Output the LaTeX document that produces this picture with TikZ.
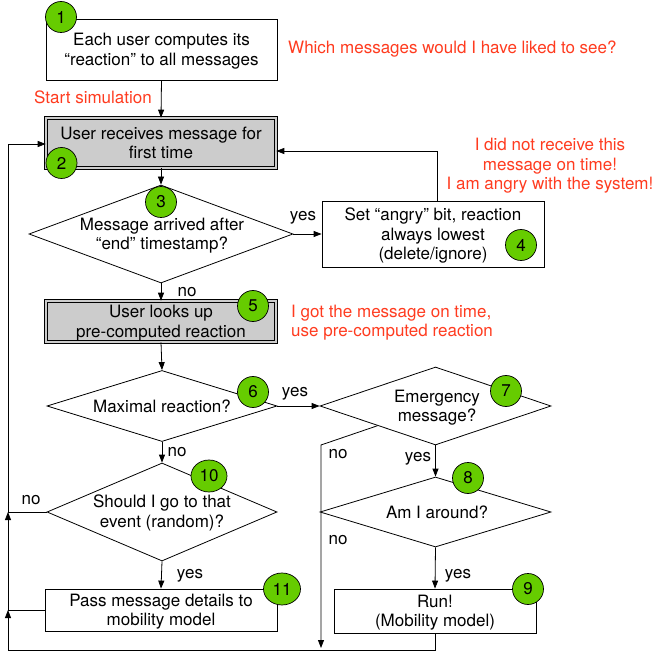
\documentclass[tikz,border=0pt]{standalone}
\usepackage{fontspec}
\setmainfont{TeX Gyre Heros}
\usetikzlibrary{shapes.geometric,arrows.meta,calc}
\definecolor{numgreen}{RGB}{102,204,0}
\definecolor{notered}{RGB}{255,59,31}
\definecolor{boxgray}{RGB}{204,204,204}
\tikzset{
  txt/.style={font=\fontsize{17}{19.5}\selectfont, align=center, inner sep=0pt, text depth=0pt},
  box/.style={txt, draw, line width=0.8pt, fill=white},
  graybox/.style={txt, draw, line width=0.6pt, double=boxgray, double distance=2pt, fill=boxgray},
  dia/.style={diamond, draw, line width=0.8pt, fill=white, inner sep=0pt},
  num/.style={ellipse, draw, line width=0.7pt, fill=numgreen, inner sep=0pt, font=\fontsize{17}{19.5}\selectfont},
  lab/.style={font=\fontsize{17}{19.5}\selectfont, inner sep=0pt},
  note/.style={txt, text=notered},
  arr/.style={line width=0.8pt, -{Triangle[length=8pt,width=6pt]}},
}
\begin{document}
\begin{tikzpicture}[x=1pt,y=-1pt]
\useasboundingbox (0,0) rectangle (656,652);

% boxes
\node[box, minimum width=231pt, minimum height=61pt] (b1) at (161.5,49.5) {Each user computes its\\“reaction” to all messages};
\node[graybox, minimum width=230pt, minimum height=50pt] (b2) at (161,143) {User receives message for\\first time};
\node[box, minimum width=222pt, minimum height=66pt] (b4) at (433,234) {Set “angry” bit, reaction\\always lowest\\(delete/ignore)};
\node[graybox, minimum width=230pt, minimum height=41pt] (b5) at (161,321.5) {User looks up\\pre-computed reaction};
\node[box, minimum width=232pt, minimum height=42pt] (b11) at (161,610) {Pass message details to\\mobility model};
\node[box, minimum width=202pt, minimum height=44pt] (b9) at (435,611) {Run!\\(Mobility model)};

% diamonds
\node[dia, minimum width=264pt, minimum height=98pt] (d3) at (161,234) {};
\node[txt] (t3) at (162,234) {Message arrived after\\“end” timestamp?};
\node[dia, minimum width=230pt, minimum height=71pt] (d6) at (162,406) {};
\node[txt] (t6) at (162,406) {Maximal reaction?};
\node[dia, minimum width=231pt, minimum height=78pt] (d7) at (435.5,406) {};
\node[txt] (t7) at (437,406) {Emergency\\message?};
\node[dia, minimum width=231pt, minimum height=70pt] (d8) at (435.5,512) {};
\node[txt] (t8) at (437,512) {Am I around?};
\node[dia, minimum width=230pt, minimum height=98pt] (d10) at (162,512) {};
\node[txt] (t10) at (162,511) {Should I go to that\\event (random)?};

% helper coordinates
\coordinate (L1) at (8,650);
\coordinate (L2) at (8,610);
\coordinate (L3) at (8,512);
\coordinate (L4) at (8,144);
\coordinate (fb) at (437,151);
\coordinate (nb) at (321,445);
\coordinate (nbe) at (321,648);

% connectors
\draw[arr] (b1.south) -- (b2.north);
\draw[arr] (b2.south) -- (d3.north);
\draw[arr] (d3.east) -- (b4.west);
\draw[arr] (fb|-b4.north) -- (fb) -- (fb-|b2.east);
\draw[arr] (d3.south) -- (b5.north);
\draw[arr] (b5.south) -- (d6.north);
\draw[arr] (d6.east) -- (d7.west);
\draw[arr] (d6.south) -- (d10.north);
\draw[arr] (d7.south) -- (d8.north);
\draw[arr] ($(d7.west)!0.5!(d7.south)$) -- (nb) -- (nbe);
\draw[arr] (d8.south) -- (b9.north);
\draw[arr] (d10.south) -- (b11.north);
\draw[arr] (b9.south) -- (b9.south|-L1) -- (L1) -- (L2);
\draw[arr] (b11.west) -- (L2) -- (L3);
\draw[arr] (d10.west) -- (L3) -- (L4) -- (L4-|b2.west);

% labels
\node[lab] (y3) at (303,218) {yes};
\node[lab] (n3l) at (187,292) {no};
\node[lab] (y6) at (295,394) {yes};
\node[lab] (n6l) at (177,452) {no};
\node[lab] (n10l) at (31,500) {no};
\node[lab] (y10) at (190,576) {yes};
\node[lab] (n7l) at (338,454) {no};
\node[lab] (y7) at (418,459) {yes};
\node[lab] (n8l) at (338,540) {no};
\node[lab] (y8) at (458,576) {yes};

% number circles
\node[num, minimum width=31pt, minimum height=31pt] (c1) at (61,17) {1};
\node[num, minimum width=31pt, minimum height=31pt] (c2) at (61.5,163) {2};
\node[num, minimum width=31pt, minimum height=31pt] (c3) at (161,202) {3};
\node[num, minimum width=31pt, minimum height=31pt] (c4) at (521,245) {4};
\node[num, minimum width=31pt, minimum height=31pt] (c5) at (253,306) {5};
\node[num, minimum width=31pt, minimum height=31pt] (c6) at (253,392) {6};
\node[num, minimum width=31pt, minimum height=31pt] (c7) at (506,391) {7};
\node[num, minimum width=31pt, minimum height=31pt] (c8) at (468,478) {8};
\node[num, minimum width=31pt, minimum height=31pt] (c9) at (528,589) {9};
\node[num, minimum width=36pt, minimum height=32pt] (c10) at (209,476) {10};
\node[num, minimum width=37pt, minimum height=32pt] (c11) at (282,589) {11};

% red notes
\node[note, anchor=west] (r1) at (288,47) {Which messages would I have liked to see?};
\node[note, anchor=west] (r2) at (34,97) {Start simulation};
\node[note] (r3) at (550,164) {I did not receive this\\message on time!\\I am angry with the system!};
\node[note, anchor=west, align=left] (r4) at (291,321) {I got the message on time,\\use pre-computed reaction};
\end{tikzpicture}
\end{document}
